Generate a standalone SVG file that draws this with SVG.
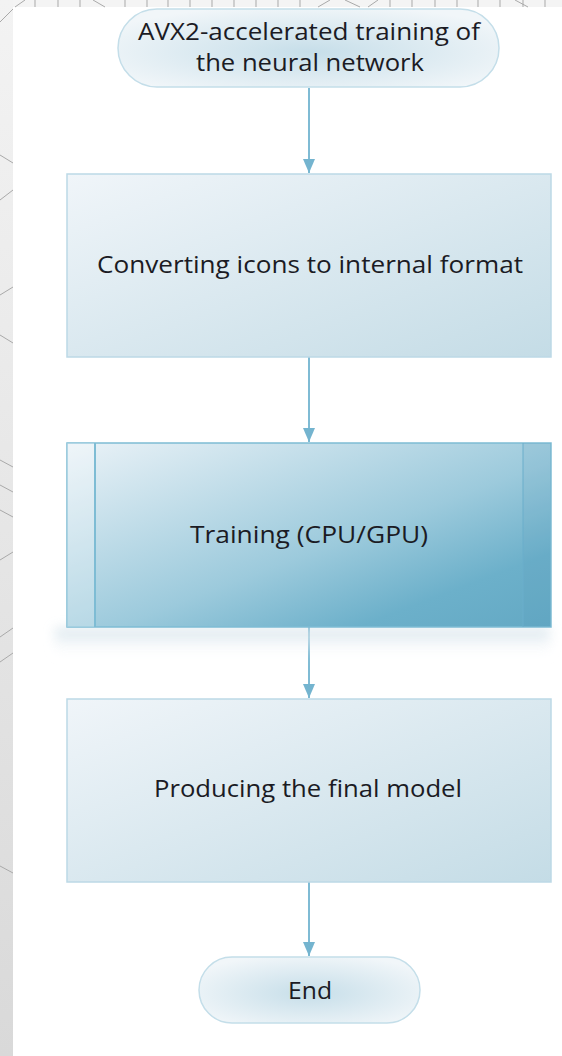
<svg xmlns="http://www.w3.org/2000/svg" width="562" height="1056" viewBox="0 0 562 1056">
  <defs>
    <style>
      .lbl { font-family: "Open Sans", "Noto Sans", "Liberation Sans", sans-serif; font-size: 24px; fill: #1b1b24; text-anchor: middle; }
      .edge { fill: none; stroke: #7fbbd4; stroke-width: 2; }
      .bgline { stroke: #a9a9a9; stroke-width: 1; fill: none; }
      .box { fill: url(#boxFill); stroke: #bcd9e6; stroke-width: 1.5; }
      .pill { fill: url(#pillFill); stroke: #c4dee9; stroke-width: 1.5; }
    </style>
    <linearGradient id="stripFill" x1="0" y1="0" x2="0" y2="1">
      <stop offset="0" stop-color="#f3f3f3"/>
      <stop offset="1" stop-color="#d9d9d9"/>
    </linearGradient>
    <linearGradient id="boxFill" x1="0" y1="0" x2="1" y2="1">
      <stop offset="0" stop-color="#f0f5f9"/>
      <stop offset="1" stop-color="#c4dce6"/>
    </linearGradient>
    <linearGradient id="procFill" x1="0" y1="0" x2="1" y2="1">
      <stop offset="0" stop-color="#eaf2f7"/>
      <stop offset="0.55" stop-color="#9ccadc"/>
      <stop offset="0.8" stop-color="#6cb0ca"/>
      <stop offset="1" stop-color="#64a9c4"/>
    </linearGradient>
    <radialGradient id="pillFill" cx="0.5" cy="0.55" r="0.6">
      <stop offset="0" stop-color="#c6dee9"/>
      <stop offset="1" stop-color="#f1f6f9"/>
    </radialGradient>
    <linearGradient id="shadowFill" x1="0" y1="0" x2="0" y2="1">
      <stop offset="0" stop-color="#cfdfe8"/>
      <stop offset="1" stop-color="#ffffff" stop-opacity="0"/>
    </linearGradient>
    <filter id="soft" x="-20%" y="-80%" width="140%" height="260%">
      <feGaussianBlur stdDeviation="6"/>
    </filter>
    <marker id="arrow" viewBox="0 0 14 12" refX="14" refY="6" markerWidth="14" markerHeight="12" markerUnits="userSpaceOnUse" orient="auto">
      <path d="M0,0 L14,6 L0,12 Z" fill="#74b4cf"/>
    </marker>
  </defs>

  <!-- page backdrop -->
  <rect x="0" y="0" width="562" height="1056" fill="#ffffff"/>
  <rect x="0" y="0" width="13" height="1056" fill="url(#stripFill)"/>
  <rect x="13" y="0" width="549" height="7" fill="#f4f4f4"/>
  <g id="backdrop-lines">
    <path class="bgline" d="M35,0 V7 M58,0 V7 M80,0 V7 M125,0 V7 M147,0 V7 M168,0 V7 M190,0 V7 M212,0 V7 M234,0 V7 M256,0 V7 M278,0 V7 M300,0 V7 M390,0 V7 M412,0 V7 M435,0 V7 M457,0 V7 M478,0 V7 M500,0 V7 M523,0 V7 M545,0 V7"/>
    <path class="bgline" d="M15,7 L25,0 M93,0 L105,7 M318,7 L330,0 M345,0 L360,7 M368,7 L378,0 M515,0 L528,7"/>
    <path class="bgline" d="M0,22 L13,9 M0,155 L13,163 M0,200 L13,190 M0,295 L13,287 M0,335 L13,343 M0,460 L13,467 M0,485 L13,492 M0,510 L13,517 M0,560 L13,552 M0,637 L13,628 M0,662 L13,653 M0,866 L13,873"/>
  </g>

  <!-- connectors -->
  <g id="connectors">
    <path class="edge" d="M309,88 V173" marker-end="url(#arrow)"/>
    <path class="edge" d="M309,357 V442" marker-end="url(#arrow)"/>
    <path class="edge" d="M309,627 V698" marker-end="url(#arrow)"/>
    <path class="edge" d="M309,882 V956" marker-end="url(#arrow)"/>
  </g>

  <!-- start terminator -->
  <g id="node-start">
    <rect class="pill" x="118" y="9" width="381" height="78" rx="39" ry="39"/>
    <text class="lbl" x="309" y="40" textLength="342" lengthAdjust="spacingAndGlyphs">AVX2-accelerated training of</text>
    <text class="lbl" x="310" y="71" textLength="228" lengthAdjust="spacingAndGlyphs">the neural network</text>
  </g>

  <!-- process: converting -->
  <g id="node-convert">
    <rect class="box" x="67" y="174" width="484" height="183"/>
    <text class="lbl" x="310" y="273" textLength="426" lengthAdjust="spacingAndGlyphs">Converting icons to internal format</text>
  </g>

  <!-- predefined process: training -->
  <g id="node-training">
    <rect x="55" y="628" width="495" height="30" fill="url(#shadowFill)" opacity="0.9" filter="url(#soft)"/>
    <rect x="67" y="443" width="484" height="184" fill="url(#procFill)" stroke="#7ebcd4" stroke-width="1.5"/>
    <rect x="67" y="443" width="28" height="184" fill="#ffffff" opacity="0.25"/>
    <rect x="523" y="443" width="28" height="184" fill="#4f98b8" opacity="0.12"/>
    <path d="M95,443 V627" stroke="#7ebcd4" stroke-width="2"/>
    <path d="M523,443 V627" stroke="#6aaecb" stroke-width="1"/>
    <text class="lbl" x="309" y="543" textLength="238" lengthAdjust="spacingAndGlyphs">Training (CPU/GPU)</text>
  </g>

  <!-- process: final model -->
  <g id="node-model">
    <rect class="box" x="67" y="699" width="484" height="183"/>
    <text class="lbl" x="308" y="797" textLength="308" lengthAdjust="spacingAndGlyphs">Producing the final model</text>
  </g>

  <!-- end terminator -->
  <g id="node-end">
    <rect class="pill" x="199" y="957" width="221" height="66" rx="33" ry="33"/>
    <text class="lbl" x="310" y="999" textLength="44" lengthAdjust="spacingAndGlyphs">End</text>
  </g>
</svg>
